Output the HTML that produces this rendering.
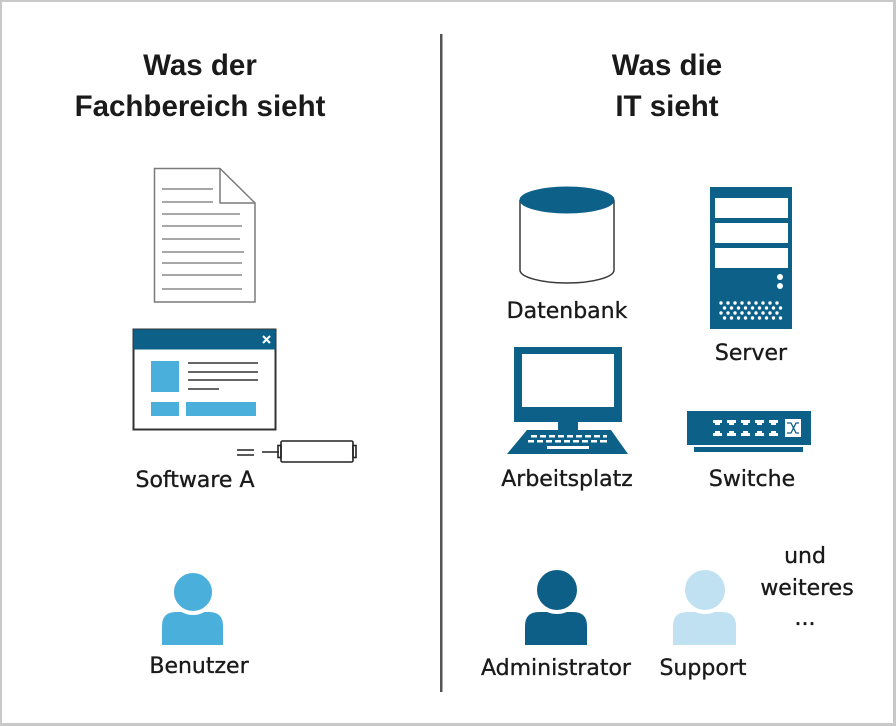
<!DOCTYPE html>
<html>
<head>
<meta charset="utf-8">
<style>
  html, body { margin: 0; padding: 0; background: #ffffff; }
  body { width: 896px; height: 726px; overflow: hidden; }
  svg { display: block; }
  .t { font-family: "Liberation Sans", "DejaVu Sans", sans-serif; font-weight: bold; font-size: 29.5px; fill: #1a1a1a; text-anchor: middle; }
  .l { font-family: "DejaVu Sans", "Liberation Sans", sans-serif; font-size: 22px; fill: #1a1a1a; stroke: #1a1a1a; stroke-width: 0.35px; text-anchor: middle; }
</style>
</head>
<body>
<svg width="896" height="726" viewBox="0 0 896 726" xmlns="http://www.w3.org/2000/svg">
  <!-- frame -->
  <rect x="0" y="0" width="896" height="726" fill="#ffffff"/>
  <rect x="0" y="0" width="896" height="2" fill="#c8c8c8"/>
  <rect x="0" y="0" width="2" height="726" fill="#c8c8c8"/>
  <rect x="893" y="0" width="3" height="726" fill="#c8c8c8"/>
  <rect x="0" y="723" width="896" height="3" fill="#c8c8c8"/>

  <!-- divider -->
  <rect x="440" y="34" width="2.5" height="658" fill="#555555"/>

  <!-- titles -->
  <text class="t" x="200" y="75">Was der</text>
  <text class="t" x="200" y="116">Fachbereich sieht</text>
  <text class="t" x="667" y="75">Was die</text>
  <text class="t" x="667" y="116">IT sieht</text>

  <!-- document -->
  <path d="M154.5,168.5 L220,168.5 L255,203 L255,302 L154.5,302 Z" fill="#ffffff" stroke="#7a7a7a" stroke-width="1.5"/>
  <path d="M220,168.5 L220,203 L255,203" fill="none" stroke="#7a7a7a" stroke-width="1.5"/>
  <g stroke="#8a8a8a" stroke-width="1.6">
    <line x1="162" y1="189" x2="213" y2="189"/>
    <line x1="162" y1="202" x2="213" y2="202"/>
    <line x1="162" y1="214" x2="240" y2="214"/>
    <line x1="162" y1="226" x2="242" y2="226"/>
    <line x1="162" y1="239" x2="240" y2="239"/>
    <line x1="162" y1="252" x2="244" y2="252"/>
    <line x1="162" y1="263" x2="242" y2="263"/>
    <line x1="162" y1="275" x2="242" y2="275"/>
    <line x1="162" y1="289" x2="242" y2="289"/>
  </g>

  <!-- software window -->
  <rect x="133.5" y="329.5" width="142" height="100" fill="#ffffff" stroke="#333333" stroke-width="2"/>
  <rect x="133.5" y="329.5" width="142" height="20" fill="#0d6189"/>
  <g stroke="#ffffff" stroke-width="2">
    <line x1="263" y1="336" x2="270" y2="343"/>
    <line x1="270" y1="336" x2="263" y2="343"/>
  </g>
  <rect x="151" y="361" width="28" height="31" fill="#4bafdb"/>
  <g stroke="#333333" stroke-width="1.6">
    <line x1="188" y1="363" x2="258" y2="363"/>
    <line x1="188" y1="372" x2="258" y2="372"/>
    <line x1="188" y1="380" x2="258" y2="380"/>
    <line x1="188" y1="389" x2="219" y2="389"/>
  </g>
  <rect x="151" y="402" width="28" height="14" fill="#4bafdb"/>
  <rect x="186" y="402" width="70" height="14" fill="#4bafdb"/>

  <!-- plug -->
  <g stroke="#222222" stroke-width="1.6" fill="none">
    <line x1="237" y1="450" x2="254" y2="450"/>
    <line x1="237" y1="455" x2="254" y2="455"/>
    <line x1="262" y1="452" x2="279" y2="452"/>
    <rect x="281" y="441" width="72" height="21" rx="1.5" fill="#ffffff"/>
    <rect x="278" y="445.5" width="3" height="12"/>
    <rect x="353" y="445.5" width="3" height="12"/>
  </g>
  <text class="l" x="195" y="487">Software A</text>

  <!-- Benutzer -->
  <path d="M162,645 L162,626 Q162,612 176,612 L209,612 Q223,612 223,626 L223,645 Z" fill="#4bafdb"/>
  <circle cx="193" cy="592" r="21" fill="#4bafdb" stroke="#ffffff" stroke-width="4"/>
  <text class="l" x="199" y="673">Benutzer</text>

  <!-- Datenbank -->
  <path d="M520,200 L520,270 A47,13 0 0 0 614,270 L614,200" fill="#ffffff" stroke="#3a3a3a" stroke-width="1.5"/>
  <ellipse cx="567" cy="200" rx="47" ry="13" fill="#0d6189" stroke="#0d6189" stroke-width="1"/>
  <text class="l" x="567" y="318">Datenbank</text>

  <!-- Server -->
  <rect x="710" y="187" width="82" height="142" fill="#0d6189"/>
  <rect x="715" y="198" width="73" height="20" fill="#ffffff"/>
  <rect x="715" y="223" width="73" height="20" fill="#ffffff"/>
  <rect x="715" y="248" width="73" height="20" fill="#ffffff"/>
  <circle cx="780" cy="277" r="3" fill="#ffffff"/>
  <circle cx="780" cy="286" r="3" fill="#ffffff"/>
  <g fill="#ffffff">
    <circle cx="721" cy="303" r="1.7"/><circle cx="728" cy="303" r="1.7"/><circle cx="735" cy="303" r="1.7"/><circle cx="742" cy="303" r="1.7"/><circle cx="749" cy="303" r="1.7"/><circle cx="756" cy="303" r="1.7"/><circle cx="763" cy="303" r="1.7"/><circle cx="770" cy="303" r="1.7"/><circle cx="777" cy="303" r="1.7"/>
    <circle cx="724.5" cy="308" r="1.7"/><circle cx="731.5" cy="308" r="1.7"/><circle cx="738.5" cy="308" r="1.7"/><circle cx="745.5" cy="308" r="1.7"/><circle cx="752.5" cy="308" r="1.7"/><circle cx="759.5" cy="308" r="1.7"/><circle cx="766.5" cy="308" r="1.7"/><circle cx="773.5" cy="308" r="1.7"/><circle cx="780.5" cy="308" r="1.7"/>
    <circle cx="721" cy="313" r="1.7"/><circle cx="728" cy="313" r="1.7"/><circle cx="735" cy="313" r="1.7"/><circle cx="742" cy="313" r="1.7"/><circle cx="749" cy="313" r="1.7"/><circle cx="756" cy="313" r="1.7"/><circle cx="763" cy="313" r="1.7"/><circle cx="770" cy="313" r="1.7"/><circle cx="777" cy="313" r="1.7"/>
    <circle cx="724.5" cy="318" r="1.7"/><circle cx="731.5" cy="318" r="1.7"/><circle cx="738.5" cy="318" r="1.7"/><circle cx="745.5" cy="318" r="1.7"/><circle cx="752.5" cy="318" r="1.7"/><circle cx="759.5" cy="318" r="1.7"/><circle cx="766.5" cy="318" r="1.7"/><circle cx="773.5" cy="318" r="1.7"/><circle cx="780.5" cy="318" r="1.7"/>
  </g>
  <text class="l" x="751" y="360">Server</text>

  <!-- Arbeitsplatz -->
  <rect x="514" y="347" width="108" height="75" fill="#0d6189"/>
  <rect x="522" y="354" width="92" height="53" fill="#ffffff"/>
  <rect x="558" y="421" width="20" height="10" fill="#0d6189"/>
  <polygon points="527,430 611,430 628,454 507,454" fill="#0d6189"/>
  <g fill="#ffffff">
    <rect x="531" y="435" width="6" height="2.5"/><rect x="540" y="435" width="6" height="2.5"/><rect x="549" y="435" width="6" height="2.5"/><rect x="558" y="435" width="6" height="2.5"/><rect x="567" y="435" width="6" height="2.5"/><rect x="576" y="435" width="6" height="2.5"/><rect x="585" y="435" width="6" height="2.5"/><rect x="594" y="435" width="6" height="2.5"/><rect x="603" y="435" width="4" height="2.5"/>
    <rect x="528" y="440" width="6" height="2.5"/><rect x="537" y="440" width="6" height="2.5"/><rect x="546" y="440" width="6" height="2.5"/><rect x="555" y="440" width="6" height="2.5"/><rect x="564" y="440" width="6" height="2.5"/><rect x="573" y="440" width="6" height="2.5"/><rect x="582" y="440" width="6" height="2.5"/><rect x="591" y="440" width="6" height="2.5"/><rect x="600" y="440" width="7" height="2.5"/>
    <rect x="547" y="446" width="42" height="3"/>
  </g>
  <text class="l" x="567" y="486">Arbeitsplatz</text>

  <!-- Switch -->
  <rect x="687" y="411" width="124" height="34" fill="#0d6189"/>
  <rect x="694" y="447" width="109" height="5" fill="#0d6189"/>
  <g fill="#ffffff">
    <path d="M713,420 h9 v3 h-2 v2 h-5 v-2 h-2 z"/>
    <path d="M727,420 h9 v3 h-2 v2 h-5 v-2 h-2 z"/>
    <path d="M741,420 h9 v3 h-2 v2 h-5 v-2 h-2 z"/>
    <path d="M755,420 h9 v3 h-2 v2 h-5 v-2 h-2 z"/>
    <path d="M769,420 h9 v3 h-2 v2 h-5 v-2 h-2 z"/>
    <path d="M713,436 h9 v-3 h-2 v-2 h-5 v2 h-2 z"/>
    <path d="M727,436 h9 v-3 h-2 v-2 h-5 v2 h-2 z"/>
    <path d="M741,436 h9 v-3 h-2 v-2 h-5 v2 h-2 z"/>
    <path d="M755,436 h9 v-3 h-2 v-2 h-5 v2 h-2 z"/>
    <path d="M769,436 h9 v-3 h-2 v-2 h-5 v2 h-2 z"/>
    <rect x="785" y="419" width="16" height="18"/>
  </g>
  <g stroke="#0d6189" stroke-width="1.3" fill="none">
    <path d="M787,423 L791,423 L796,433 L799,433"/>
    <path d="M787,433 L791,433 L796,423 L799,423"/>
  </g>
  <text class="l" x="752" y="486">Switche</text>

  <!-- Administrator -->
  <path d="M525,645 L525,626 Q525,612 539,612 L573,612 Q587,612 587,626 L587,645 Z" fill="#0d5f87"/>
  <circle cx="557" cy="590" r="22" fill="#0d5f87" stroke="#ffffff" stroke-width="4"/>
  <text class="l" x="556" y="675">Administrator</text>

  <!-- Support -->
  <path d="M673,645 L673,626 Q673,612 687,612 L722,612 Q736,612 736,626 L736,645 Z" fill="#c0e1f1"/>
  <circle cx="705" cy="590" r="22" fill="#c0e1f1" stroke="#ffffff" stroke-width="4"/>
  <text class="l" x="703" y="675">Support</text>

  <!-- und weiteres -->
  <text class="l" x="805" y="563">und</text>
  <text class="l" x="807" y="595">weiteres</text>
  <text class="l" x="805" y="625">...</text>
</svg>
</body>
</html>
